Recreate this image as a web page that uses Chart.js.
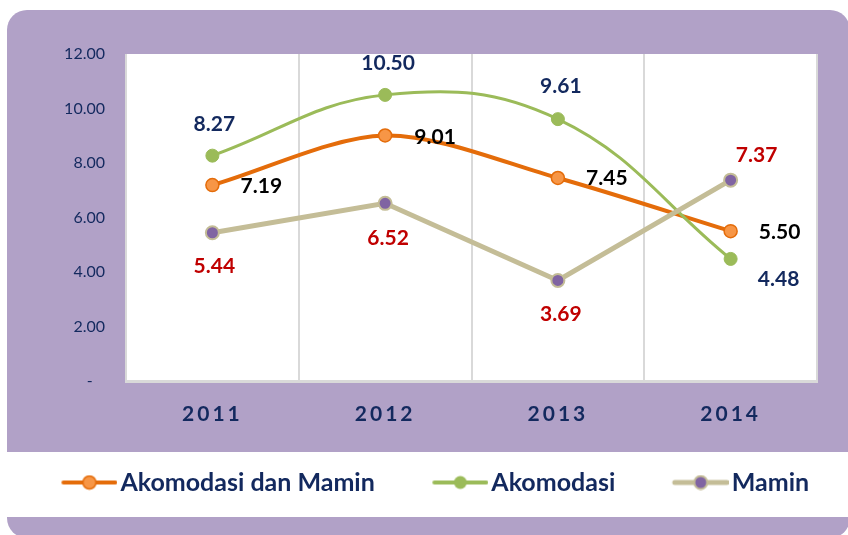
<!DOCTYPE html>
<html><head><meta charset="utf-8">
<script src="https://cdn.jsdelivr.net/npm/chart.js@4/dist/chart.umd.min.js"></script>
<style>html,body{margin:0;padding:0;background:#fff}#wrap{width:848px;height:535px;position:relative}</style>
</head><body><div id="wrap"><canvas id="c" width="848" height="535"></canvas></div>
<script>
const categories = ['2011', '2012', '2013', '2014'];
const seriesNames = ['Akomodasi dan Mamin', 'Akomodasi', 'Mamin'];
const akomodasiDanMamin = [7.19, 9.01, 7.45, 5.50];
const akomodasi = [8.27, 10.50, 9.61, 4.48];
const mamin = [5.44, 6.52, 3.69, 7.37];
const yTickValues = [0, 2, 4, 6, 8, 10, 12];

const NAVY = '#13295E';
const PURPLE_BG = '#B1A1C7';
const FONT = 'Lato, "Open Sans", sans-serif';

function legendSymbol(lineColor, lineW, fill, stroke, strokeW) {
  const W = 113, H = 16, c = document.createElement('canvas');
  c.width = W; c.height = H;
  const x = c.getContext('2d');
  x.strokeStyle = lineColor; x.lineWidth = lineW; x.lineCap = 'round';
  x.beginPath(); x.moveTo(W - 54, H / 2); x.lineTo(W - 2, H / 2); x.stroke();
  x.beginPath(); x.arc(W - 28, H / 2, 6.5, 0, Math.PI * 2);
  x.fillStyle = fill; x.fill();
  if (strokeW) { x.lineWidth = strokeW; x.strokeStyle = stroke; x.stroke(); }
  return c;
}

const bgPlugin = {
  id: 'bg',
  afterLayout(chart) { chart.legend.left += 3; chart.legend.right += 3; },
  beforeDraw(chart) {
    const ctx = chart.ctx, a = chart.chartArea;
    ctx.save();
    ctx.fillStyle = '#ffffff';
    ctx.fillRect(0, 0, chart.width, chart.height);
    ctx.fillStyle = PURPLE_BG;
    ctx.beginPath();
    ctx.roundRect(7, 10, 843, 528, 20);
    ctx.fill();
    ctx.fillStyle = '#ffffff';
    ctx.fillRect(0, 452, chart.width, 65);
    ctx.fillRect(a.left, a.top, a.right - a.left, a.bottom - a.top);
    ctx.restore();
  }
};

const labelPlugin = {
  id: 'vlabels',
  afterDatasetsDraw(chart) {
    const ctx = chart.ctx;
    ctx.save();
    ctx.letterSpacing = '0px';
    ctx.font = 'bold 21px ' + FONT;
    ctx.textAlign = 'center';
    ctx.textBaseline = 'middle';
    chart.data.datasets.forEach((ds, i) => {
      const meta = chart.getDatasetMeta(i);
      meta.data.forEach((el, j) => {
        const off = ds.labelOffsets[j];
        ctx.fillStyle = ds.labelColor;
        ctx.fillText(ds.data[j].toFixed(2), el.x + off[0], el.y + off[1]);
      });
    });
    ctx.restore();
    ctx.letterSpacing = '3px';
  },
  afterDraw(chart) { chart.ctx.letterSpacing = '0px'; }
};

new Chart(document.getElementById('c'), {
  type: 'line',
  data: {
    labels: categories,
    datasets: [
      {
        label: seriesNames[0], data: akomodasiDanMamin, order: 3,
        borderColor: '#E46C0A', borderWidth: 4, tension: 0.3,
        pointRadius: 6.5, pointBackgroundColor: '#F79646', pointBorderColor: '#E46C0A', pointBorderWidth: 1.5,
        pointStyle: 'circle',
        legendStyle: legendSymbol('#E46C0A', 4, '#F79646', '#E46C0A', 1.5),
        labelColor: '#000000',
        labelOffsets: [[49, 1], [50, 2], [49, 0], [49, 1.5]]
      },
      {
        label: seriesNames[1], data: akomodasi, order: 2,
        borderColor: '#9BBB59', borderWidth: 3, tension: 0.4,
        pointRadius: 6.5, pointBackgroundColor: '#9BBB59', pointBorderColor: '#9BBB59', pointBorderWidth: 1,
        legendStyle: legendSymbol('#9BBB59', 4, '#9BBB59', '#9BBB59', 0),
        labelColor: NAVY,
        labelOffsets: [[2, -31], [3, -32], [3, -33], [48, 20]]
      },
      {
        label: seriesNames[2], data: mamin, order: 1,
        borderColor: '#C4BD97', borderWidth: 5, tension: 0,
        pointRadius: 6.5, pointBackgroundColor: '#8064A2', pointBorderColor: '#C4BD97', pointBorderWidth: 2,
        legendStyle: legendSymbol('#C4BD97', 5, '#8064A2', '#C4BD97', 2),
        labelColor: '#C00000',
        labelOffsets: [[2, 33], [3, 35], [3, 34], [26, -25]]
      }
    ]
  },
  options: {
    responsive: false, animation: false, devicePixelRatio: 1,
    layout: { padding: { left: 0, right: 31, top: 54, bottom: 30 } },
    plugins: {
      tooltip: { enabled: false },
      legend: {
        position: 'bottom',
        labels: {
          usePointStyle: true,
          pointStyleWidth: 94,
          padding: 10,
          color: NAVY,
          font: { family: FONT, size: 25, weight: 'bold' },
          sort: (a, b) => a.datasetIndex - b.datasetIndex,
          generateLabels(chart) {
            return chart.data.datasets.map((ds, i) => ({
              text: ds.label, pointStyle: ds.legendStyle, datasetIndex: i,
              fontColor: NAVY, hidden: false, lineWidth: 0, strokeStyle: 'transparent', fillStyle: 'transparent'
            }));
          }
        }
      }
    },
    scales: {
      x: {
        offset: true,
        grid: { display: true, offset: true, color: '#D9D9D9', lineWidth: 2, drawTicks: false },
        border: { display: true, color: '#D9D9D9', width: 3 },
        ticks: { z: 1, padding: 21, color: NAVY, font: { family: FONT, size: 21, weight: 'bold' } },
        afterFit(scale) { scale.height = 79; }
      },
      y: {
        min: 0, max: 12,
        afterBuildTicks(scale) { scale.ticks = yTickValues.map(v => ({ value: v })); },
        afterFit(scale) { scale.width = 126; },
        grid: { display: false, drawTicks: false },
        border: { display: false },
        ticks: {
          padding: 21, color: NAVY, font: { family: FONT, size: 16 },
          callback: v => v === 0 ? '-   ' : v.toFixed(2)
        }
      }
    }
  },
  plugins: [bgPlugin, labelPlugin]
});
</script></body></html>
